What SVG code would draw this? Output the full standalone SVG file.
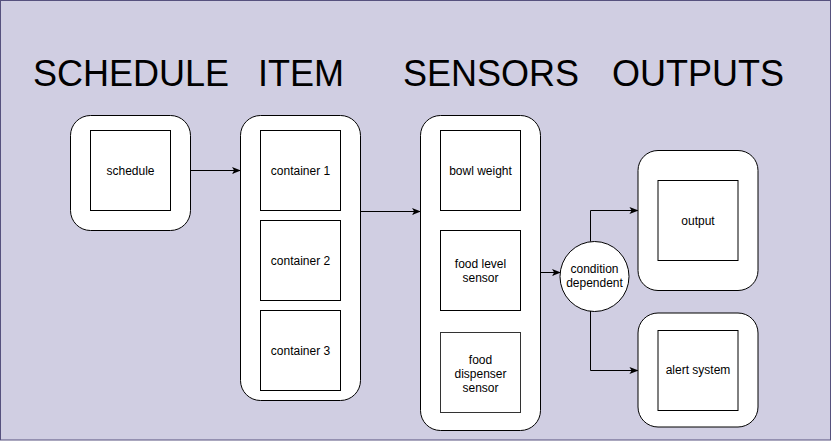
<svg xmlns="http://www.w3.org/2000/svg" width="831" height="441" viewBox="0 0 831 441">
<defs>
<style>
.bg{fill:#d0cee2;stroke:#56517e;stroke-width:1}
.outer{fill:#ffffff;stroke:#000000;stroke-width:1}
.inner{fill:#ffffff;stroke:#000000;stroke-width:1}
.t{font-family:"Liberation Sans",Arial,Helvetica,sans-serif;font-size:12px;fill:#000000;text-anchor:middle}
.h{font-family:"Liberation Sans",Arial,Helvetica,sans-serif;font-size:36px;fill:#000000}
.edge{fill:none;stroke:#000000;stroke-width:1}
</style>
<marker id="arr" viewBox="0 0 10 10" refX="9" refY="5" markerWidth="9" markerHeight="9" markerUnits="userSpaceOnUse" orient="auto">
<path d="M0,1 L10,5 L0,9 L2.5,5 Z" fill="#000000"/>
</marker>
</defs>
<rect class="bg" x="0.5" y="0.5" width="830" height="439.5"/>
<g id="titles">
<text class="h" x="33" y="86">SCHEDULE</text>
<text class="h" x="258" y="86">ITEM</text>
<text class="h" x="403" y="86">SENSORS</text>
<text class="h" x="612" y="86">OUTPUTS</text>
</g>
<g id="schedule-group">
<rect class="outer" x="70.5" y="115.5" width="120" height="115" rx="20" ry="20"/>
<g id="schedule">
<rect class="inner" x="90.5" y="130.5" width="80" height="80"/>
<text class="t" x="130.5" y="175">schedule</text>
</g>
</g>
<g id="item-group">
<rect class="outer" x="240.5" y="115.5" width="120" height="285" rx="20" ry="20"/>
<g id="container1">
<rect class="inner" x="260.5" y="130.5" width="80" height="80"/>
<text class="t" x="300.5" y="175">container 1</text>
</g>
<g id="container2">
<rect class="inner" x="260.5" y="220.5" width="80" height="80"/>
<text class="t" x="300.5" y="265">container 2</text>
</g>
<g id="container3">
<rect class="inner" x="260.5" y="310.5" width="80" height="80"/>
<text class="t" x="300.5" y="355">container 3</text>
</g>
</g>
<g id="sensors-group">
<rect class="outer" x="420.5" y="115.5" width="120" height="315" rx="20" ry="20"/>
<g id="bowl-weight">
<rect class="inner" x="440.5" y="130.5" width="80" height="80"/>
<text class="t" x="480.5" y="175">bowl weight</text>
</g>
<g id="food-level">
<rect class="inner" x="440.5" y="230.5" width="80" height="80"/>
<text class="t" x="480.5" y="268">food level</text>
<text class="t" x="480.5" y="282">sensor</text>
</g>
<g id="food-dispenser">
<rect class="inner" x="440.5" y="332.5" width="80" height="80" style="stroke:#333333"/>
<text class="t" x="480.5" y="364">food</text>
<text class="t" x="480.5" y="378">dispenser</text>
<text class="t" x="480.5" y="392">sensor</text>
</g>
</g>
<g id="condition">
<ellipse class="inner" cx="594.5" cy="276.5" rx="34.5" ry="35"/>
<text class="t" x="594.5" y="273">condition</text>
<text class="t" x="594.5" y="287">dependent</text>
</g>
<g id="output-group">
<rect class="outer" x="638" y="150.5" width="120" height="140" rx="20" ry="20"/>
<g id="output">
<rect class="inner" x="658" y="180.5" width="80" height="80"/>
<text class="t" x="698" y="225">output</text>
</g>
</g>
<g id="alert-group">
<rect class="outer" x="638" y="313" width="120" height="114" rx="20" ry="20"/>
<g id="alert">
<rect class="inner" x="658" y="330.5" width="80" height="80"/>
<text class="t" x="698" y="374">alert system</text>
</g>
</g>
<g id="connectors">
<path class="edge" d="M190.5,170.5 L240,170.5" marker-end="url(#arr)"/>
<path class="edge" d="M360.5,211.5 L420,211.5" marker-end="url(#arr)"/>
<path class="edge" d="M540.5,272.5 L560,272.5" marker-end="url(#arr)"/>
<path class="edge" d="M590.5,241.5 L590.5,210.5 L637.5,210.5" marker-end="url(#arr)"/>
<path class="edge" d="M590.5,311 L590.5,370.5 L637.5,370.5" marker-end="url(#arr)"/>
</g>
</svg>
